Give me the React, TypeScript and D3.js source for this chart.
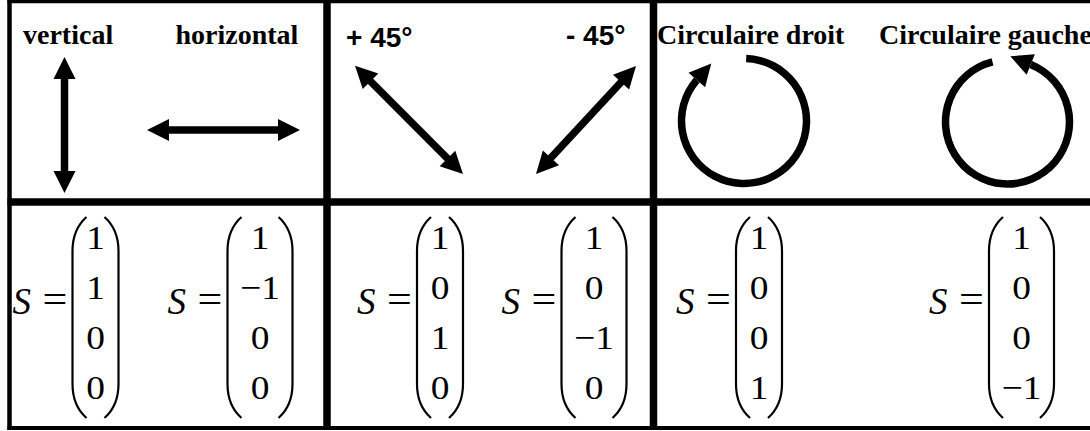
import React from "react";
import * as d3 from "d3";

// états de polarisation et vecteurs de Stokes associés
const labels = ["vertical", "horizontal", "+ 45°", "- 45°", "Circulaire droit", "Circulaire gauche"];
const stokes = [
  [1, 1, 0, 0],
  [1, -1, 0, 0],
  [1, 0, 1, 0],
  [1, 0, -1, 0],
  [1, 0, 0, 1],
  [1, 0, 0, -1],
];

// mise en page (pixels)
const W = 1090;
const H = 431;
const colEdges = [9.5, 327, 653.5];
const rowY = { top: 1.5, mid: 202, bottom: 428 };
const labelPos = [[23, 44], [175.5, 44], [346, 47], [566, 45], [657, 44], [879, 44]];
const sansLabels = [2, 3];
const linArrows = [
  [[64.5, 57], [64.5, 193]],
  [[147, 130], [300, 130]],
  [[355, 65.7], [463, 174]],
  [[636, 66], [536, 174]],
];
const circArrows = [
  { c: [744, 121], r: 62.5, from: 2, to: 311, head: 311, dir: 1 },
  { c: [1007.5, 122], r: 62, from: 22, to: 346, head: 22, dir: -1 },
];
const vecCenters = [95.5, 260, 440, 594, 759, 1021.5];

const HEAD_L = 22;
const HEAD_W = 11;
const SHAFT = 7.5;
const serif = "'Liberation Serif', 'Times New Roman', serif";
const sans = "'Liberation Sans', Arial, sans-serif";

const rowScale = d3.scaleLinear().domain([0, 3]).range([248.5, 399]);
const rad = (deg: number) => (deg * Math.PI) / 180;

const headPoints = (tip: number[], dir: number[]) => {
  const px = -dir[1], py = dir[0];
  const bx = tip[0] - HEAD_L * dir[0], by = tip[1] - HEAD_L * dir[1];
  return [
    [tip[0], tip[1]],
    [bx + HEAD_W * px, by + HEAD_W * py],
    [bx - HEAD_W * px, by - HEAD_W * py],
  ].map(p => p.join(",")).join(" ");
};

const LinArrow = ({ a, b }: { a: number[]; b: number[] }) => {
  const len = Math.hypot(b[0] - a[0], b[1] - a[1]);
  const d = [(b[0] - a[0]) / len, (b[1] - a[1]) / len];
  const k = HEAD_L - 2;
  return (
    <g>
      <line
        x1={a[0] + k * d[0]} y1={a[1] + k * d[1]}
        x2={b[0] - k * d[0]} y2={b[1] - k * d[1]}
        stroke="#000" strokeWidth={SHAFT}
      />
      <polygon points={headPoints(b, d)} fill="#000" />
      <polygon points={headPoints(a, [-d[0], -d[1]])} fill="#000" />
    </g>
  );
};

const CircArrow = ({ c, r, from, to, head, dir }: any) => {
  const arc = d3.arc()({
    innerRadius: r - SHAFT / 2,
    outerRadius: r + SHAFT / 2,
    startAngle: rad(from),
    endAngle: rad(to),
  } as any);
  const t = rad(head);
  const base = [c[0] + r * Math.sin(t), c[1] - r * Math.cos(t)];
  const tan = [dir * Math.cos(t), dir * Math.sin(t)];
  const tip = [base[0] + HEAD_L * tan[0], base[1] + HEAD_L * tan[1]];
  return (
    <g>
      <path d={arc || ""} transform={`translate(${c[0]},${c[1]})`} fill="#000" />
      <polygon points={headPoints(tip, tan)} fill="#000" />
    </g>
  );
};

const parenPath = (x0: number, top: number, bot: number, side: number) => {
  // side = 1 : parenthèse gauche, -1 : parenthèse droite (x0 = bord extérieur)
  const p = d3.path();
  const h = 15 * side;
  const s = 1 * side;
  p.moveTo(x0 + h, top);
  p.bezierCurveTo(x0 + s + 5 * side, top + 8, x0 + s, top + 20, x0 + s, top + 34);
  p.lineTo(x0 + s, bot - 34);
  p.bezierCurveTo(x0 + s, bot - 20, x0 + s + 5 * side, bot - 8, x0 + h, bot);
  return p.toString();
};

const Vector = ({ cx, values }: { cx: number; values: number[] }) => {
  const w = values.some(v => v < 0) ? 67 : 48;
  const lp = cx - w / 2;
  const rp = cx + w / 2;
  return (
    <g>
      <text x={lp - 59} y={314} fontFamily={serif} fontStyle="italic" fontSize={37}>S</text>
      <text transform={`translate(${lp - 29},313) scale(1.1,1)`} fontFamily={serif} fontSize={40}>=</text>
      <path d={parenPath(lp, 217, 418, 1)} fill="none" stroke="#000" strokeWidth={2.2} />
      <path d={parenPath(rp, 217, 418, -1)} fill="none" stroke="#000" strokeWidth={2.2} />
      {values.map((v, i) => (
        <text
          key={i}
          transform={`translate(${cx},${rowScale(i)}) scale(1.1,1)`}
          textAnchor="middle"
          fontFamily={serif}
          fontSize={34}
        >
          {v < 0 ? `\u2212${-v}` : v}
        </text>
      ))}
    </g>
  );
};

export default function App() {
  return (
    <svg width={W} height={H} style={{ position: "absolute", left: 0, top: 0, background: "#fff" }}>
      <rect x={0} y={0} width={W} height={H} fill="#fff" />
      {/* cadre du tableau */}
      <line x1={7.5} x2={W} y1={rowY.top} y2={rowY.top} stroke="#000" strokeWidth={3.3} />
      <line x1={7.5} x2={W} y1={rowY.bottom} y2={rowY.bottom} stroke="#000" strokeWidth={4} />
      <line x1={7.5} x2={W} y1={rowY.mid} y2={rowY.mid} stroke="#000" strokeWidth={7.5} />
      <line x1={colEdges[0]} x2={colEdges[0]} y1={0} y2={430} stroke="#000" strokeWidth={4.5} />
      {colEdges.slice(1).map(x => (
        <line key={x} x1={x} x2={x} y1={0} y2={430} stroke="#000" strokeWidth={7.5} />
      ))}

      {labels.map((l, i) => (
        <text
          key={l}
          x={labelPos[i][0]}
          y={labelPos[i][1]}
          fontFamily={sansLabels.includes(i) ? sans : serif}
          fontWeight="bold"
          fontSize={28}
        >
          {l}
        </text>
      ))}

      {linArrows.map(([a, b], i) => <LinArrow key={i} a={a} b={b} />)}
      {circArrows.map((c, i) => <CircArrow key={i} {...c} />)}

      {stokes.map((v, i) => <Vector key={i} cx={vecCenters[i]} values={v} />)}
    </svg>
  );
}
